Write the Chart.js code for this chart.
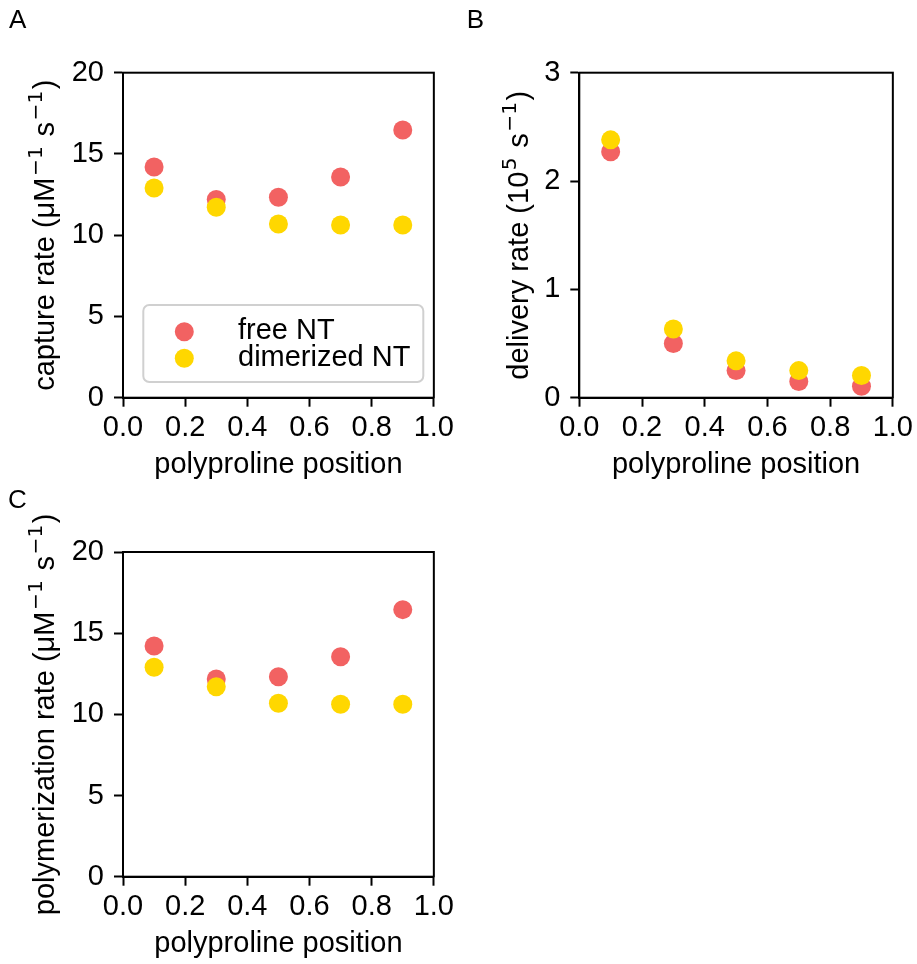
<!DOCTYPE html>
<html>
<head>
<meta charset="utf-8">
<script src="https://cdn.jsdelivr.net/npm/chart.js@4.4.1/dist/chart.umd.min.js"></script>
<style>
  html, body { margin: 0; padding: 0; background: #ffffff; }
  body { width: 917px; height: 964px; position: relative; overflow: hidden; }
  canvas { position: absolute; }
</style>
</head>
<body>
<canvas id="cA" width="458" height="480" style="left:0px;top:0px;width:458px;height:480px;"></canvas>
<canvas id="cB" width="459" height="480" style="left:458px;top:0px;width:459px;height:480px;"></canvas>
<canvas id="cC" width="458" height="484" style="left:0px;top:480px;width:458px;height:484px;"></canvas>
<script>
// ---------------- data ----------------
const positions = [0.1, 0.3, 0.5, 0.7, 0.9];
const seriesNames = ['free NT', 'dimerized NT'];

const captureFree  = [14.20, 12.20, 12.33, 13.58, 16.47];
const captureDimer = [12.90, 11.72, 10.69, 10.63, 10.63];

const deliveryFree  = [2.27, 0.50, 0.25, 0.15, 0.105];
const deliveryDimer = [2.38, 0.635, 0.34, 0.25, 0.205];

const polymFree  = [14.21, 12.18, 12.32, 13.55, 16.45];
const polymDimer = [12.90, 11.70, 10.68, 10.62, 10.62];

const xTicks = [0.0, 0.2, 0.4, 0.6, 0.8, 1.0];
const yTicksAC = [0, 5, 10, 15, 20];
const yTicksB = [0, 1, 2, 3];

// ---------------- styles ----------------
const RED = '#f26262';
const YELLOW = '#ffd700';
const FONT = '"Liberation Sans", Arial, Helvetica, sans-serif';
const SUPFONT = '"DejaVu Sans", "Liberation Sans", sans-serif';
const FS = 29;

function toPts(xs, ys) { return xs.map((x, i) => ({x: x, y: ys[i]})); }

function makeDatasets(free, dimer) {
  return [
    { label: seriesNames[0], data: toPts(positions, free), backgroundColor: RED, borderWidth: 0,
      pointRadius: 9.5, pointHoverRadius: 9.5, order: 1 },
    { label: seriesNames[1], data: toPts(positions, dimer), backgroundColor: YELLOW, borderWidth: 0,
      pointRadius: 9.5, pointHoverRadius: 9.5, order: 0 }
  ];
}

// plugin drawing frame, titles, panel letter, legend
const panelPlugin = {
  id: 'panelPlugin',
  afterDraw(chart) {
    const o = chart.options.plugins.panelPlugin;
    const ctx = chart.ctx;
    const a = chart.chartArea;
    ctx.save();
    // top/right spines (full frame)
    ctx.strokeStyle = '#000';
    ctx.lineWidth = 2;
    ctx.strokeRect(a.left, a.top, a.right - a.left, a.bottom - a.top);

    ctx.fillStyle = '#000';
    ctx.textBaseline = 'alphabetic';
    // panel letter
    ctx.font = '26px ' + FONT;
    ctx.textAlign = 'left';
    ctx.fillText(o.letter, o.letterX, o.letterY);

    // x title
    ctx.font = FS + 'px ' + FONT;
    ctx.textAlign = 'center';
    ctx.fillText(o.xTitle, (a.left + a.right) / 2, o.xTitleY);

    // y title with superscripts, rotated
    ctx.save();
    ctx.translate(o.yTitleX, (a.top + a.bottom) / 2);
    ctx.rotate(-Math.PI / 2);
    ctx.textAlign = 'left';
    const supSize = FS * 0.7;
    const fontOf = s => s.sup ? (supSize + 'px ' + SUPFONT) : (FS + 'px ' + FONT);
    let total = 0;
    o.yTitle.forEach(s => { ctx.font = fontOf(s); s.w = ctx.measureText(s.t).width + (s.sup ? 3 : 0); total += s.w; });
    let x = -total / 2;
    o.yTitle.forEach(s => {
      ctx.font = fontOf(s);
      ctx.fillText(s.t, x + (s.sup ? 1.5 : 0), s.sup ? -FS * 0.42 : 0);
      x += s.w;
    });
    ctx.restore();

    // legend
    if (o.legend) {
      const L = o.legend;
      ctx.beginPath();
      if (ctx.roundRect) ctx.roundRect(L.x, L.y, L.w, L.h, 6); else ctx.rect(L.x, L.y, L.w, L.h);
      ctx.fillStyle = 'rgba(255,255,255,0.8)';
      ctx.fill();
      ctx.strokeStyle = '#d0d0d0';
      ctx.lineWidth = 2;
      ctx.stroke();
      chart.data.datasets.forEach((ds, i) => {
        const cy = L.rowY[i];
        ctx.beginPath();
        ctx.arc(L.markerX, cy, 9.5, 0, Math.PI * 2);
        ctx.fillStyle = ds.backgroundColor;
        ctx.fill();
        ctx.fillStyle = '#000';
        ctx.font = FS + 'px ' + FONT;
        ctx.textAlign = 'left';
        ctx.textBaseline = 'alphabetic';
        ctx.fillText(ds.label, L.textX, cy + 7.5);
      });
    }
    ctx.restore();
  }
};

function makeChart(id, cfg) {
  const canvas = document.getElementById(id);
  const W = canvas.width, H = canvas.height;
  const area = cfg.area;
  return new Chart(canvas, {
    type: 'scatter',
    data: { datasets: makeDatasets(cfg.free, cfg.dimer) },
    plugins: [panelPlugin],
    options: {
      responsive: false,
      maintainAspectRatio: false,
      devicePixelRatio: 1,
      animation: false,
      events: [],
      layout: { padding: { left: 0, top: area.top, right: W - area.right, bottom: 0 } },
      plugins: {
        legend: { display: false },
        tooltip: { enabled: false },
        panelPlugin: cfg.panel
      },
      scales: {
        x: {
          type: 'linear', min: 0, max: 1,
          afterBuildTicks: s => { s.ticks = xTicks.map(v => ({value: v})); },
          afterFit: s => { s.height = H - area.bottom; },
          ticks: { color: '#000', padding: 4, font: { family: FONT, size: FS }, maxRotation: 0,
                   callback: v => Number(v).toFixed(1) },
          grid: { display: true, drawOnChartArea: false, drawTicks: true, tickLength: 9, tickWidth: 2, tickColor: '#000' },
          border: { display: true, color: '#000', width: 2 }
        },
        y: {
          type: 'linear', min: cfg.yTicks[0], max: cfg.yTicks[cfg.yTicks.length - 1],
          afterBuildTicks: s => { s.ticks = cfg.yTicks.map(v => ({value: v})); },
          afterFit: s => { s.width = area.left; },
          ticks: { color: '#000', padding: 10, font: { family: FONT, size: FS },
                   callback: v => String(v) },
          grid: { display: true, drawOnChartArea: false, drawTicks: true, tickLength: 9, tickWidth: 2, tickColor: '#000' },
          border: { display: true, color: '#000', width: 2 }
        }
      }
    }
  });
}

makeChart('cA', {
  free: captureFree, dimer: captureDimer, yTicks: yTicksAC,
  area: { left: 123, right: 437.7, top: 72.7, bottom: 397.7 },
  panel: {
    letter: 'A', letterX: 9, letterY: 28,
    xTitle: 'polyproline position', xTitleY: 473,
    yTitleX: 54,
    yTitle: [{t: 'capture rate (μM'}, {t: '−1', sup: true}, {t: ' s'}, {t: '−1', sup: true}, {t: ')'}],
    legend: { x: 143.3, y: 305, w: 280, h: 77, markerX: 184.3, rowY: [331.7, 358.3], textX: 238 }
  }
});

makeChart('cB', {
  free: deliveryFree, dimer: deliveryDimer, yTicks: yTicksB,
  area: { left: 121.3, right: 437, top: 72.7, bottom: 397.7 },
  panel: {
    letter: 'B', letterX: 8.7, letterY: 28,
    xTitle: 'polyproline position', xTitleY: 473,
    yTitleX: 70,
    yTitle: [{t: 'delivery rate (10'}, {t: '5', sup: true}, {t: ' s'}, {t: '−1', sup: true}, {t: ')'}]
  }
});

makeChart('cC', {
  free: polymFree, dimer: polymDimer, yTicks: yTicksAC,
  area: { left: 123, right: 437.7, top: 72, bottom: 396.7 },
  panel: {
    letter: 'C', letterX: 8, letterY: 28,
    xTitle: 'polyproline position', xTitleY: 472,
    yTitleX: 54,
    yTitle: [{t: 'polymerization rate (μM'}, {t: '−1', sup: true}, {t: ' s'}, {t: '−1', sup: true}, {t: ')'}]
  }
});
</script>
</body>
</html>
